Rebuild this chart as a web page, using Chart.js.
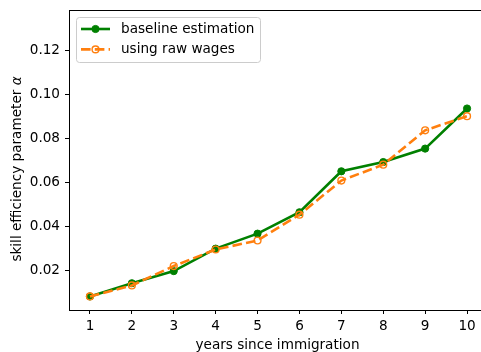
<!DOCTYPE html>
<html>
<head>
<meta charset="utf-8">
<script src="https://cdn.jsdelivr.net/npm/chart.js@4"></script>
<style>
  html, body { margin: 0; padding: 0; background: #fff; overflow: hidden; }
  #wrap { width: 500px; height: 352px; position: relative; }
</style>
</head>
<body>
<div id="wrap"><canvas id="alphaChart"></canvas></div>
<script>
// alpha estimates by years since immigration
const years = [1, 2, 3, 4, 5, 6, 7, 8, 9, 10];
const baseline = [0.0082, 0.0142, 0.0197, 0.0299, 0.0367, 0.0464, 0.0650, 0.0692, 0.0753, 0.0935];
const rawWages = [0.0082, 0.0132, 0.0220, 0.0295, 0.0336, 0.0453, 0.0608, 0.0680, 0.0836, 0.0900];
const yTicks = [0.02, 0.04, 0.06, 0.08, 0.10, 0.12];
const xTicks = years;

const GREEN = '#008000';
const ORANGE = '#ff7f0e';
const FONT = '"DejaVu Sans", sans-serif';
const FS = 13.6;

// frame around the plot, axis titles and the legend box
const decor = {
  id: 'decor',
  beforeDatasetsDraw(chart) {
    const { ctx, chartArea: a } = chart;
    ctx.save();
    ctx.strokeStyle = '#000';
    ctx.lineWidth = 1;
    ctx.strokeRect(Math.round(a.left) + 0.5, Math.round(a.top) + 0.5,
                   Math.round(a.right - a.left), Math.round(a.bottom - a.top));
    ctx.restore();
  },
  afterDraw(chart) {
    const { ctx, chartArea: a } = chart;

    // x axis label
    ctx.save();
    ctx.fillStyle = '#000';
    ctx.font = FS + 'px ' + FONT;
    ctx.textAlign = 'center';
    ctx.textBaseline = 'alphabetic';
    ctx.fillText('years since immigration', (a.left + a.right) / 2 - 1, 349);
    ctx.restore();

    // y axis label, alpha in italic
    ctx.save();
    ctx.translate(17, 169);
    ctx.rotate(-Math.PI / 2);
    ctx.fillStyle = '#000';
    ctx.textBaseline = 'middle';
    const main = 'skill efficiency parameter ';
    ctx.font = FS + 'px ' + FONT;
    const w1 = ctx.measureText(main).width;
    ctx.font = 'italic ' + FS + 'px ' + FONT;
    const w2 = ctx.measureText('α').width;
    const x0 = -(w1 + w2) / 2;
    ctx.font = FS + 'px ' + FONT;
    ctx.fillText(main, x0, 0);
    ctx.font = 'italic ' + FS + 'px ' + FONT;
    ctx.fillText('α', x0 + w1, 0);
    ctx.restore();

    // legend
    ctx.save();
    const bx = 76.5, by = 17.5, bw = 184, bh = 45;
    ctx.beginPath();
    ctx.roundRect(bx, by, bw, bh, 3);
    ctx.fillStyle = 'rgba(255,255,255,0.8)';
    ctx.fill();
    ctx.strokeStyle = '#cccccc';
    ctx.lineWidth = 1;
    ctx.stroke();

    chart.data.datasets.forEach((ds, i) => {
      const y = 29 + i * 20.4;
      ctx.beginPath();
      ctx.setLineDash(ds.borderDash || []);
      ctx.strokeStyle = ds.borderColor;
      ctx.lineWidth = ds.borderWidth;
      ctx.moveTo(81, y);
      ctx.lineTo(110, y);
      ctx.stroke();
      ctx.setLineDash([]);
      ctx.beginPath();
      ctx.arc(95.5, y, ds.pointRadius, 0, Math.PI * 2);
      ctx.fillStyle = ds.pointBackgroundColor;
      ctx.fill();
      ctx.lineWidth = ds.pointBorderWidth;
      ctx.strokeStyle = ds.pointBorderColor;
      ctx.stroke();
      ctx.fillStyle = '#000';
      ctx.font = FS + 'px ' + FONT;
      ctx.textBaseline = 'middle';
      ctx.fillText(ds.label, 121, y);
    });
    ctx.restore();
  }
};

new Chart(document.getElementById('alphaChart'), {
  type: 'line',
  data: {
    datasets: [
      {
        label: 'baseline estimation',
        data: years.map((x, i) => ({ x, y: baseline[i] })),
        borderColor: GREEN,
        borderWidth: 2.6,
        pointRadius: 3.6,
        pointBackgroundColor: GREEN,
        pointBorderColor: GREEN,
        pointBorderWidth: 1,
        order: 1
      },
      {
        label: 'using raw wages',
        data: years.map((x, i) => ({ x, y: rawWages[i] })),
        borderColor: ORANGE,
        borderWidth: 2.6,
        borderDash: [9.6, 4.2],
        pointRadius: 3.4,
        pointBackgroundColor: 'rgba(0,0,0,0)',
        pointBorderColor: ORANGE,
        pointBorderWidth: 1.4,
        order: 0
      }
    ]
  },
  options: {
    responsive: true,
    maintainAspectRatio: false,
    animation: false,
    events: [],
    layout: { padding: { top: 10, right: 12, left: 0, bottom: 0 } },
    plugins: { legend: { display: false }, tooltip: { enabled: false } },
    scales: {
      x: {
        type: 'linear',
        min: 0.5,
        max: 10.5,
        afterBuildTicks: axis => { axis.ticks = xTicks.map(v => ({ value: v })); },
        afterFit: axis => { axis.height = 42; axis.paddingLeft = 0; axis.paddingRight = 0; },
        grid: { drawOnChartArea: false, tickLength: 4, color: '#000', tickWidth: 1 },
        border: { display: true, color: '#000', width: 1 },
        ticks: { color: '#000', font: { family: FONT, size: FS }, padding: 4, maxRotation: 0,
                 callback: v => String(v) }
      },
      y: {
        min: 0.00205,
        max: 0.1382,
        afterBuildTicks: axis => { axis.ticks = yTicks.map(v => ({ value: v })); },
        afterFit: axis => { axis.width = 69; axis.paddingTop = 0; axis.paddingBottom = 0; },
        grid: { drawOnChartArea: false, tickLength: 4, color: '#000', tickWidth: 1 },
        border: { display: true, color: '#000', width: 1 },
        ticks: { color: '#000', font: { family: FONT, size: FS }, padding: 5,
                 callback: v => v.toFixed(2) }
      }
    }
  },
  plugins: [decor]
});
</script>
</body>
</html>
